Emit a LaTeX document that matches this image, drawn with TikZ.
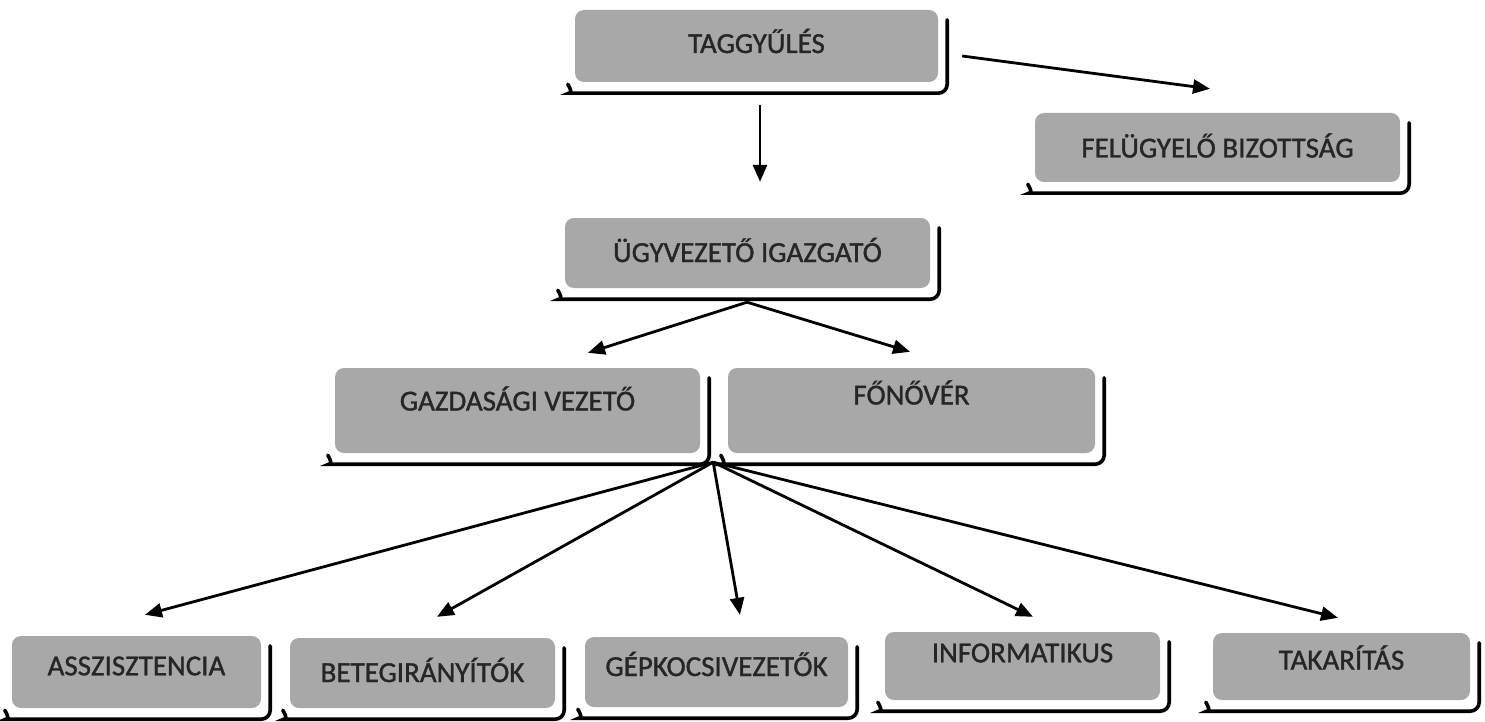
\documentclass[tikz,border=0pt]{standalone}
\usepackage{fontspec}
\setmainfont[FakeBold=1.2]{Carlito}
\usetikzlibrary{arrows.meta,calc}
\definecolor{boxgray}{gray}{0.66}
\tikzset{
  orgbox/.style={draw=none, fill=boxgray, rounded corners=9pt, inner sep=0pt},
  lbl/.style={font=\fontsize{29}{32}\selectfont, text=black!85},
  curlline/.style={draw=black, line width=3.6pt, rounded corners=9pt, line cap=round},
  arr/.style={draw=black, line width=2.8pt, -{Triangle[length=17pt,width=14pt]}}
}
\newcommand\curl[1]{\draw[curlline] ([shift={(-7,-2)}]#1.south west) to[out=-60,in=180] ([shift={(3,-11)}]#1.south west) -- ([shift={(9,-11)}]#1.south east) -- ([shift={(9,-10)}]#1.north east);}
\begin{document}
\begin{tikzpicture}[x=1pt,y=1pt]
\useasboundingbox (0,0) rectangle (1485,-722);
% boxes: center x, center y, width, height
\node[orgbox, minimum width=363pt, minimum height=72pt, label={[lbl,yshift=5pt]center:TAGGYŰLÉS}] (tg) at (756.5,-46) {};
\node[orgbox, minimum width=365pt, minimum height=69pt, label={[lbl,yshift=2pt]center:FELÜGYELŐ BIZOTTSÁG}] (fb) at (1217.5,-147.5) {};
\node[orgbox, minimum width=365pt, minimum height=70pt, label={[lbl,yshift=3pt]center:ÜGYVEZETŐ IGAZGATÓ}] (ui) at (747.5,-253) {};
\node[orgbox, minimum width=365pt, minimum height=85pt, label={[lbl,yshift=12pt]center:GAZDASÁGI VEZETŐ}] (gv) at (517.5,-410.5) {};
\node[orgbox, minimum width=367pt, minimum height=85pt, label={[lbl,yshift=18pt]center:FŐNŐVÉR}] (fn) at (911.5,-410.5) {};
\node[orgbox, minimum width=249pt, minimum height=72pt, label={[lbl,yshift=6pt]center:ASSZISZTENCIA}] (as) at (136.5,-672) {};
\node[orgbox, minimum width=265pt, minimum height=70pt, label={[lbl,yshift=3pt]center:BETEGIRÁNYÍTÓK}] (bt) at (422.5,-673) {};
\node[orgbox, minimum width=263pt, minimum height=70pt, label={[lbl,yshift=8pt]center:GÉPKOCSIVEZETŐK}] (gk) at (716.5,-672) {};
\node[orgbox, minimum width=275pt, minimum height=68pt, label={[lbl,yshift=13pt]center:INFORMATIKUS}] (in) at (1022.5,-666) {};
\node[orgbox, minimum width=257pt, minimum height=67pt, label={[lbl,yshift=9pt]center:TAKARÍTÁS}] (tk) at (1341.5,-666.5) {};
\foreach \n in {tg,fb,ui,gv,fn,as,bt,gk,in,tk} {\curl{\n}}
% connectors
\draw[arr] ([shift={(3.5,-23)}]tg.south) -- ([shift={(12.5,36)}]ui.north);
\draw[arr] ([shift={(24,-10)}]tg.east) -- ([shift={(-7.5,24)}]fb.north);
\coordinate (uo) at ([shift={(-0.5,-14)}]ui.south);
\draw[arr] (uo) -- ([shift={(70.5,15)}]gv.north);
\draw[arr] (uo) -- ([shift={(-1.5,16)}]fn.north);
\coordinate (fo) at ([shift={(13,-9)}]gv.south east);
\draw[arr] (fo) -- ([shift={(8.5,21)}]as.north);
\draw[arr] (fo) -- ([shift={(14.5,21)}]bt.north);
\draw[arr] (fo) -- ([shift={(23.5,22)}]gk.north);
\draw[arr] (fo) -- ([shift={(10.5,15)}]in.north);
\draw[arr] (fo) -- ([shift={(-3.5,15)}]tk.north);
\end{tikzpicture}
\end{document}
